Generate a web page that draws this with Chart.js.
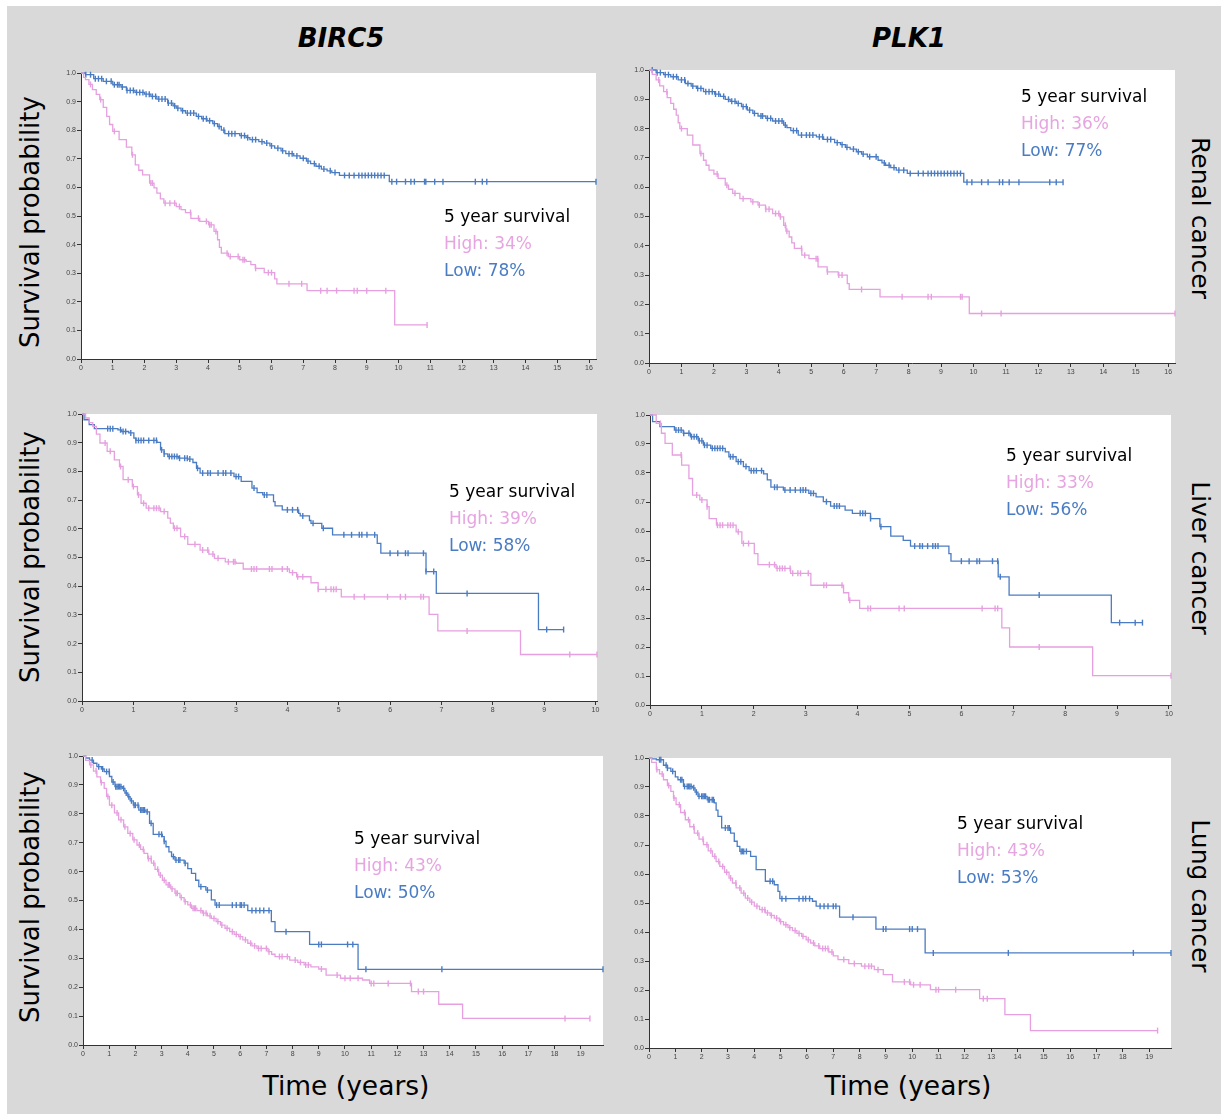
<!DOCTYPE html>
<html>
<head>
<meta charset="utf-8">
<script src="https://cdn.jsdelivr.net/npm/chart.js@4.4.1/dist/chart.umd.min.js"></script>
<style>
  html, body { margin: 0; padding: 0; background: #fff; }
  body { width: 1221px; height: 1118px; position: relative; overflow: hidden; font-family: "DejaVu Sans", Verdana, sans-serif; }
  #bg { position: absolute; left: 7px; top: 6px; width: 1214px; height: 1108px; background: #d9d9d9; }
  .panel { position: absolute; }
  .title { position: absolute; font-size: 26px; font-weight: bold; font-style: italic; color: #000; transform: translate(-50%, -50%); white-space: nowrap; }
  .ylab { position: absolute; font-size: 26px; color: #000; white-space: nowrap; transform: translate(-50%, -50%) rotate(-90deg); }
  .rlab { position: absolute; font-size: 25px; color: #000; white-space: nowrap; transform: translate(-50%, -50%) rotate(90deg); }
  .xlab { position: absolute; font-size: 26.5px; color: #000; white-space: nowrap; transform: translate(-50%, -50%); }
  .note { position: absolute; font-size: 17px; line-height: 27px; white-space: nowrap; }
  .note .k { color: #000; }
  .note .h { color: #e6a4e0; }
  .note .l { color: #4a7cc4; }
</style>
</head>
<body>
<div id="bg"></div>

<div class="title" style="left:341px; top:38px;">BIRC5</div>
<div class="title" style="left:909px; top:38px;">PLK1</div>

<div class="ylab" style="left:30px; top:222px;">Survival probability</div>
<div class="ylab" style="left:30px; top:557px;">Survival probability</div>
<div class="ylab" style="left:30px; top:897px;">Survival probability</div>

<div class="rlab" style="left:1200px; top:218px;">Renal cancer</div>
<div class="rlab" style="left:1200px; top:558px;">Liver cancer</div>
<div class="rlab" style="left:1200px; top:896px;">Lung cancer</div>

<div class="xlab" style="left:346px; top:1085px;">Time (years)</div>
<div class="xlab" style="left:908px; top:1085px;">Time (years)</div>

<script>
// tick labels
const yTicks = [0, 0.1, 0.2, 0.3, 0.4, 0.5, 0.6, 0.7, 0.8, 0.9, 1.0];
const yTickLabels = ['0.0', '0.1', '0.2', '0.3', '0.4', '0.5', '0.6', '0.7', '0.8', '0.9', '1.0'];
const renalTicks = [0, 1, 2, 3, 4, 5, 6, 7, 8, 9, 10, 11, 12, 13, 14, 15, 16];
const liverTicks = [0, 1, 2, 3, 4, 5, 6, 7, 8, 9, 10];
const lungTicks = [0, 1, 2, 3, 4, 5, 6, 7, 8, 9, 10, 11, 12, 13, 14, 15, 16, 17, 18, 19];

// 5 year survival (%)
const fiveYearHigh = [34, 36, 39, 33, 43, 43];
const fiveYearLow = [78, 77, 58, 56, 50, 53];

// KM steps: [time, survival from that time on]
const renalBircHigh = [[0,1],[0.08,0.985],[0.14,0.977],[0.25,0.96],[0.36,0.942],[0.48,0.925],[0.59,0.907],[0.7,0.88],[0.81,0.848],[0.9,0.82],[1.0,0.796],[1.2,0.767],[1.43,0.741],[1.6,0.714],[1.71,0.679],[1.82,0.66],[1.94,0.644],[2.16,0.615],[2.3,0.598],[2.39,0.58],[2.5,0.56],[2.61,0.545],[3.0,0.533],[3.15,0.522],[3.29,0.512],[3.46,0.492],[3.74,0.481],[4.02,0.469],[4.19,0.446],[4.3,0.417],[4.36,0.39],[4.42,0.37],[4.64,0.358],[5.0,0.347],[5.2,0.341],[5.35,0.33],[5.49,0.317],[5.77,0.302],[6.1,0.28],[6.17,0.263],[7.12,0.239],[9.88,0.119],[10.9,0.119]];
const renalBircLow = [[0,1],[0.14,0.994],[0.4,0.98],[0.7,0.971],[1.0,0.959],[1.26,0.951],[1.43,0.939],[1.7,0.932],[2.0,0.926],[2.2,0.918],[2.39,0.909],[2.73,0.895],[2.9,0.885],[3.0,0.877],[3.15,0.868],[3.29,0.86],[3.63,0.848],[3.8,0.84],[3.97,0.833],[4.15,0.823],[4.3,0.813],[4.42,0.8],[4.53,0.788],[5.0,0.781],[5.2,0.774],[5.32,0.767],[5.6,0.76],[5.77,0.755],[5.95,0.745],[6.1,0.737],[6.3,0.728],[6.45,0.718],[6.7,0.71],[6.9,0.702],[7.1,0.692],[7.23,0.683],[7.4,0.674],[7.57,0.664],[7.75,0.658],[7.9,0.652],[8.14,0.642],[9.71,0.62],[16.22,0.62]];
const renalBircHighCens = [0.3,0.62,1.05,1.62,2.2,2.25,2.65,2.8,2.95,3.1,3.45,3.7,3.95,4.05,4.1,4.25,4.6,4.7,4.95,5.1,5.15,5.5,5.9,6.0,6.55,6.95,7.55,7.75,8.05,8.6,8.7,9.0,9.6,10.9];
const renalBircLowCens = [0.15,0.3,0.45,0.55,0.65,0.8,0.95,1.05,1.15,1.2,1.3,1.45,1.55,1.65,1.75,1.85,1.95,2.05,2.15,2.25,2.35,2.45,2.55,2.65,2.75,2.85,2.95,3.05,3.2,3.35,3.45,3.55,3.7,3.85,3.95,4.05,4.2,4.35,4.5,4.65,4.75,4.85,5.05,5.15,5.25,5.4,5.5,5.7,5.85,6.0,6.2,6.35,6.55,6.65,6.8,7.0,7.15,7.35,7.5,7.65,7.85,8.0,8.3,8.45,8.6,8.75,8.85,8.95,9.05,9.15,9.25,9.35,9.45,9.55,9.79,9.94,10.22,10.39,10.5,10.82,10.86,11.14,11.4,12.42,12.64,12.78,16.22];

const renalPlkHigh = [[0,1],[0.1,0.985],[0.22,0.966],[0.33,0.946],[0.45,0.926],[0.56,0.906],[0.67,0.886],[0.76,0.866],[0.84,0.846],[0.9,0.82],[0.95,0.8],[1.18,0.778],[1.35,0.744],[1.57,0.715],[1.68,0.692],[1.76,0.675],[1.85,0.658],[2.0,0.645],[2.13,0.63],[2.35,0.607],[2.45,0.593],[2.58,0.579],[2.8,0.561],[3.14,0.55],[3.36,0.539],[3.59,0.525],[3.81,0.51],[4.04,0.499],[4.15,0.47],[4.22,0.45],[4.32,0.43],[4.4,0.41],[4.48,0.391],[4.71,0.368],[4.93,0.356],[5.21,0.328],[5.49,0.311],[5.83,0.3],[6.11,0.271],[6.17,0.251],[7.12,0.226],[9.87,0.169],[16.21,0.169]];
const renalPlkLow = [[0,1],[0.22,0.991],[0.45,0.984],[0.67,0.977],[0.9,0.966],[1.12,0.954],[1.3,0.945],[1.46,0.937],[1.68,0.926],[2.02,0.918],[2.2,0.91],[2.35,0.9],[2.5,0.893],[2.69,0.886],[2.85,0.875],[3.03,0.863],[3.2,0.852],[3.36,0.843],[3.6,0.835],[3.81,0.826],[4.15,0.812],[4.25,0.803],[4.37,0.793],[4.6,0.778],[5.16,0.772],[5.38,0.763],[5.72,0.752],[5.9,0.745],[6.05,0.736],[6.2,0.73],[6.39,0.721],[6.55,0.713],[6.73,0.704],[7.06,0.692],[7.18,0.683],[7.29,0.675],[7.45,0.667],[7.62,0.658],[7.96,0.647],[9.7,0.617],[12.76,0.617]];
const renalPlkHighCens = [0.3,0.55,1.0,1.6,2.1,2.4,2.65,2.9,3.2,3.4,3.6,3.7,3.9,4.0,4.05,4.2,4.25,4.7,4.8,5.15,5.2,5.5,5.85,5.95,6.55,7.8,8.6,8.7,9.6,9.65,10.25,10.85,16.21];
const renalPlkLowCens = [0.1,0.25,0.35,0.5,0.6,0.75,0.85,1.0,1.1,1.2,1.35,1.5,1.6,1.75,1.85,1.95,2.05,2.15,2.3,2.45,2.55,2.65,2.75,2.9,3.0,3.1,3.25,3.45,3.5,3.65,3.75,3.9,4.0,4.1,4.2,4.45,4.55,4.7,4.85,4.95,5.05,5.25,5.35,5.5,5.6,5.8,5.95,6.1,6.3,6.45,6.6,6.8,7.0,7.25,7.4,7.55,7.7,7.85,8.05,8.3,8.45,8.6,8.7,8.8,8.9,9.0,9.1,9.2,9.3,9.4,9.5,9.6,9.8,9.95,10.25,10.45,10.8,10.9,11.1,11.4,12.35,12.55,12.76];

const liverBircHigh = [[0,1],[0.07,0.986],[0.14,0.97],[0.21,0.957],[0.28,0.93],[0.35,0.899],[0.49,0.87],[0.63,0.84],[0.73,0.817],[0.8,0.771],[0.98,0.747],[1.08,0.718],[1.15,0.689],[1.25,0.672],[1.53,0.66],[1.67,0.637],[1.72,0.62],[1.78,0.602],[1.92,0.573],[2.06,0.546],[2.3,0.526],[2.47,0.512],[2.58,0.497],[2.79,0.485],[3.0,0.48],[3.14,0.46],[4.04,0.447],[4.18,0.433],[4.46,0.412],[4.6,0.389],[5.05,0.363],[6.76,0.302],[6.93,0.244],[8.54,0.162],[10.03,0.162]];
const liverBircLow = [[0,1],[0.04,0.98],[0.14,0.963],[0.24,0.949],[0.7,0.945],[0.77,0.939],[0.91,0.934],[1.01,0.916],[1.05,0.908],[1.46,0.901],[1.53,0.875],[1.6,0.861],[1.67,0.852],[1.88,0.846],[2.06,0.843],[2.16,0.831],[2.23,0.811],[2.3,0.794],[2.96,0.782],[3.1,0.765],[3.31,0.742],[3.41,0.726],[3.52,0.718],[3.73,0.695],[3.76,0.68],[3.9,0.666],[4.22,0.654],[4.25,0.645],[4.43,0.629],[4.46,0.619],[4.67,0.602],[4.88,0.579],[5.75,0.549],[5.82,0.515],[6.7,0.451],[6.9,0.375],[8.89,0.249],[9.38,0.249]];
const liverBircHighCens = [0.45,0.55,0.75,0.9,1.0,1.1,1.2,1.3,1.4,1.45,1.5,1.6,1.8,1.85,2.0,2.2,2.35,2.45,2.55,2.65,2.85,2.95,2.98,3.3,3.35,3.4,3.65,3.7,3.9,4.0,4.1,4.2,4.3,4.6,4.75,4.85,4.9,4.95,5.3,5.5,5.95,6.2,6.3,6.6,6.65,7.5,9.5,10.03];
const liverBircLowCens = [0.5,0.55,0.6,0.75,0.8,0.85,0.95,1.05,1.1,1.15,1.2,1.3,1.4,1.45,1.55,1.6,1.7,1.75,1.8,1.85,1.9,2.0,2.05,2.1,2.25,2.35,2.45,2.5,2.65,2.75,2.8,2.9,3.0,3.05,3.35,3.55,3.6,4.0,4.1,4.2,4.3,4.5,4.7,5.1,5.25,5.4,5.45,5.55,5.7,6.0,6.15,6.3,6.35,6.65,6.7,6.85,7.5,9.05,9.38];

const liverPlkHigh = [[0,1],[0.12,0.971],[0.22,0.937],[0.29,0.902],[0.43,0.862],[0.61,0.827],[0.75,0.781],[0.82,0.724],[0.96,0.707],[1.1,0.684],[1.14,0.643],[1.28,0.62],[1.66,0.597],[1.77,0.557],[2.01,0.522],[2.08,0.484],[2.43,0.471],[2.71,0.454],[3.1,0.413],[3.73,0.387],[3.83,0.361],[4.04,0.333],[6.78,0.266],[6.93,0.2],[8.53,0.101],[10.04,0.101]];
const liverPlkLow = [[0,1],[0.05,0.977],[0.19,0.96],[0.47,0.948],[0.64,0.937],[0.78,0.925],[0.93,0.911],[1.03,0.896],[1.17,0.885],[1.45,0.873],[1.52,0.856],[1.66,0.839],[1.8,0.822],[1.91,0.808],[2.19,0.797],[2.26,0.776],[2.33,0.751],[2.57,0.741],[3.06,0.73],[3.2,0.718],[3.34,0.701],[3.48,0.686],[3.76,0.672],[3.9,0.661],[4.25,0.643],[4.43,0.615],[4.64,0.582],[4.88,0.568],[5.02,0.548],[5.76,0.522],[5.8,0.496],[6.71,0.442],[6.92,0.379],[8.89,0.284],[9.49,0.284]];
const liverPlkHighCens = [0.2,0.6,0.9,1.0,1.1,1.3,1.35,1.4,1.5,1.55,1.6,1.7,1.8,1.9,2.3,2.4,2.45,2.5,2.55,2.6,2.7,2.75,2.85,2.9,3.05,3.35,3.4,3.7,3.85,4.2,4.25,4.8,4.9,6.4,6.65,6.7,7.5,10.04];
const liverPlkLowCens = [0.5,0.55,0.6,0.65,0.75,0.8,0.85,0.9,0.95,1.0,1.05,1.1,1.2,1.25,1.3,1.35,1.4,1.55,1.6,1.7,1.75,1.85,1.95,2.0,2.05,2.15,2.4,2.45,2.6,2.7,2.8,2.9,2.95,3.0,3.1,3.15,3.4,3.55,3.6,3.65,4.05,4.1,4.15,4.25,4.45,5.1,5.2,5.25,5.35,5.45,5.5,5.55,6.0,6.15,6.3,6.35,6.6,6.7,6.75,7.5,9.05,9.35,9.49];

const lungBircHigh = [[0,1],[0.1,0.985],[0.25,0.969],[0.4,0.948],[0.53,0.928],[0.67,0.908],[0.81,0.888],[0.9,0.86],[1.01,0.83],[1.2,0.803],[1.36,0.779],[1.55,0.755],[1.71,0.732],[1.9,0.71],[2.06,0.692],[2.2,0.677],[2.33,0.663],[2.47,0.645],[2.61,0.629],[2.75,0.608],[2.89,0.588],[3.03,0.57],[3.17,0.554],[3.35,0.54],[3.51,0.525],[3.7,0.51],[3.86,0.496],[4.0,0.485],[4.14,0.473],[4.35,0.465],[4.56,0.456],[4.75,0.447],[4.9,0.438],[5.08,0.427],[5.25,0.415],[5.42,0.404],[5.6,0.392],[5.77,0.383],[5.94,0.375],[6.1,0.364],[6.29,0.352],[6.45,0.343],[6.64,0.334],[7.06,0.323],[7.2,0.314],[7.33,0.306],[7.89,0.294],[8.2,0.286],[8.44,0.277],[8.7,0.27],[9.0,0.263],[9.28,0.242],[9.83,0.231],[10.67,0.225],[10.94,0.213],[12.54,0.185],[13.58,0.141],[14.49,0.092],[19.35,0.092]];
const lungBircLow = [[0,1],[0.1,0.993],[0.25,0.986],[0.4,0.975],[0.53,0.963],[0.7,0.955],[0.81,0.946],[1.01,0.929],[1.1,0.91],[1.22,0.894],[1.5,0.888],[1.6,0.872],[1.71,0.859],[1.8,0.845],[1.92,0.83],[2.13,0.813],[2.4,0.807],[2.54,0.767],[2.68,0.729],[3.03,0.721],[3.1,0.705],[3.17,0.686],[3.28,0.668],[3.38,0.652],[3.51,0.64],[3.86,0.629],[4.0,0.61],[4.14,0.594],[4.3,0.57],[4.42,0.548],[4.69,0.536],[4.9,0.502],[5.04,0.484],[6.29,0.465],[7.19,0.427],[7.33,0.392],[8.65,0.348],[10.5,0.262],[19.85,0.262]];
const lungBircHighCens = [0.3,0.5,0.7,0.95,1.1,1.3,1.45,1.6,1.8,1.95,2.15,2.3,2.5,2.6,2.7,2.85,2.95,3.1,3.25,3.3,3.4,3.55,3.6,3.75,3.9,4.1,4.2,4.25,4.3,4.5,4.6,4.7,4.85,5.0,5.15,5.3,5.5,5.7,5.85,6.0,6.2,6.4,6.55,6.7,6.8,7.0,7.1,7.5,7.6,7.8,8.1,8.3,8.5,8.6,9.1,9.7,10.0,10.2,10.5,11.0,11.1,11.65,12.5,12.8,13.0,18.4,19.35];
const lungBircLowCens = [0.35,0.6,0.75,0.9,1.0,1.15,1.25,1.3,1.35,1.4,1.45,1.55,1.65,1.75,1.85,1.95,2.0,2.1,2.2,2.25,2.3,2.35,2.45,2.6,2.9,3.0,3.1,3.45,3.55,3.65,3.7,3.9,4.5,4.75,5.1,5.2,5.7,5.85,6.0,6.05,6.15,6.45,6.6,6.75,6.9,7.1,7.75,9.0,9.1,10.1,10.3,10.8,13.7,19.85];

const lungPlkHigh = [[0,1],[0.1,0.985],[0.28,0.96],[0.4,0.945],[0.55,0.925],[0.7,0.905],[0.83,0.885],[0.93,0.862],[1.03,0.839],[1.2,0.812],[1.38,0.787],[1.55,0.763],[1.72,0.741],[1.9,0.72],[2.07,0.701],[2.25,0.68],[2.41,0.661],[2.55,0.643],[2.69,0.626],[2.87,0.606],[3.04,0.586],[3.17,0.569],[3.31,0.552],[3.5,0.534],[3.66,0.517],[3.83,0.503],[4.0,0.489],[4.2,0.477],[4.42,0.466],[4.6,0.457],[4.76,0.448],[4.95,0.436],[5.11,0.425],[5.28,0.415],[5.45,0.405],[5.62,0.395],[5.8,0.385],[5.97,0.373],[6.14,0.362],[6.3,0.352],[6.49,0.343],[6.83,0.331],[7.0,0.318],[7.18,0.305],[7.59,0.291],[8.07,0.282],[8.56,0.27],[8.9,0.253],[9.25,0.228],[9.94,0.218],[10.69,0.201],[12.56,0.17],[13.52,0.115],[14.49,0.06],[19.32,0.06]];
const lungPlkLow = [[0,1],[0.1,0.997],[0.28,0.994],[0.55,0.975],[0.7,0.965],[0.83,0.954],[1.0,0.935],[1.1,0.925],[1.31,0.902],[1.66,0.897],[1.75,0.882],[1.86,0.868],[2.21,0.856],[2.48,0.845],[2.55,0.82],[2.62,0.799],[2.76,0.759],[3.1,0.741],[3.24,0.713],[3.35,0.695],[3.45,0.678],[3.86,0.661],[4.07,0.615],[4.42,0.575],[4.76,0.563],[4.9,0.54],[4.97,0.515],[6.21,0.506],[6.35,0.489],[7.24,0.451],[8.62,0.41],[10.49,0.328],[19.83,0.328]];
const lungPlkHighCens = [0.3,0.5,0.75,0.95,1.15,1.35,1.5,1.7,1.85,2.05,2.2,2.35,2.5,2.65,2.8,2.95,3.1,3.3,3.45,3.6,3.75,3.9,4.1,4.3,4.4,4.5,4.65,4.85,5.0,5.2,5.35,5.55,5.7,5.85,6.05,6.25,6.45,6.6,6.7,6.8,6.95,7.4,7.8,8.2,8.35,8.45,8.7,9.7,9.9,10.05,10.3,10.9,11.0,11.65,12.7,12.85,19.32];
const lungPlkLowCens = [0.4,0.45,0.65,0.7,0.9,1.2,1.25,1.35,1.45,1.5,1.55,1.6,1.7,1.8,1.9,2.0,2.05,2.1,2.15,2.25,2.3,2.4,2.45,2.9,3.0,3.05,3.5,3.55,3.6,3.7,4.6,4.7,5.05,5.2,5.7,5.85,5.95,6.1,6.5,6.65,6.8,7.0,7.1,7.75,8.9,9.0,9.9,10.0,10.2,10.8,13.65,18.4,19.83];

const pink = '#e6a0e0';
const blue = '#4a7cc4';

// plot area on the page: L/R = x pixels of axis and right edge, T/B = y of 1.0 and 0.0
const panels = [
    { L: 81,  T: 73,  R: 596,  B: 359,  xMax: 16.22, ticks: renalTicks, high: renalBircHigh, low: renalBircLow, hc: renalBircHighCens, lc: renalBircLowCens, note: [444, 216] },
    { L: 649, T: 70,  R: 1175, B: 363,  xMax: 16.21, ticks: renalTicks, high: renalPlkHigh,  low: renalPlkLow,  hc: renalPlkHighCens,  lc: renalPlkLowCens,  note: [1021, 96] },
    { L: 82,  T: 414, R: 597,  B: 701,  xMax: 10.03, ticks: liverTicks, high: liverBircHigh, low: liverBircLow, hc: liverBircHighCens, lc: liverBircLowCens, note: [449, 491] },
    { L: 650, T: 415, R: 1171, B: 705,  xMax: 10.04, ticks: liverTicks, high: liverPlkHigh,  low: liverPlkLow,  hc: liverPlkHighCens,  lc: liverPlkLowCens,  note: [1006, 455] },
    { L: 83,  T: 756, R: 603,  B: 1045, xMax: 19.85, ticks: lungTicks,  high: lungBircHigh,  low: lungBircLow,  hc: lungBircHighCens,  lc: lungBircLowCens,  note: [354, 838] },
    { L: 649, T: 758, R: 1171, B: 1048, xMax: 19.83, ticks: lungTicks,  high: lungPlkHigh,   low: lungPlkLow,   hc: lungPlkHighCens,   lc: lungPlkLowCens,   note: [957, 823] }
];

const survAt = (steps, t) => {
    let s = steps[0][1];
    for (const [x, y] of steps) {
        if (x <= t) s = y; else break;
    }
    return s;
};

const whiteArea = {
    id: 'whiteArea',
    beforeDraw(chart) {
        const a = chart.chartArea;
        chart.ctx.save();
        chart.ctx.fillStyle = '#ffffff';
        chart.ctx.fillRect(a.left, a.top, a.right - a.left, a.bottom - a.top);
        chart.ctx.restore();
    }
};

const tickFont = { family: 'Liberation Sans', size: 7 };

panels.forEach((p, i) => {
    const wrap = document.createElement('div');
    wrap.className = 'panel';
    const w = p.R - p.L + 38, h = p.B - p.T + 26;
    wrap.style.left = (p.L - 30) + 'px';
    wrap.style.top = (p.T - 6) + 'px';
    wrap.style.width = w + 'px';
    wrap.style.height = h + 'px';
    const canvas = document.createElement('canvas');
    canvas.width = w;
    canvas.height = h;
    canvas.style.width = w + 'px';
    canvas.style.height = h + 'px';
    wrap.appendChild(canvas);
    document.body.appendChild(wrap);

    // horizontal at the old value, then drop at the next event time
    const line = (steps, color) => ({
        data: steps.map(([x, y]) => ({ x, y })),
        showLine: true,
        stepped: 'before',
        borderColor: color,
        borderWidth: 1.3,
        pointRadius: 0,
        fill: false,
        clip: false
    });
    const cens = (times, steps, color) => ({
        data: times.map(t => ({ x: t, y: survAt(steps, t) })),
        showLine: false,
        pointStyle: 'line',
        rotation: 90,
        pointRadius: 3,
        borderColor: color,
        borderWidth: 1.4,
        clip: false
    });

    new Chart(canvas.getContext('2d'), {
        type: 'scatter',
        data: {
            datasets: [
                line(p.high, pink),
                cens(p.hc, p.high, pink),
                line(p.low, blue),
                cens(p.lc, p.low, blue)
            ]
        },
        options: {
            responsive: false,
            animation: false,
            layout: { padding: { left: 0, top: 6, right: 8, bottom: 0 } },
            plugins: { legend: { display: false }, tooltip: { enabled: false } },
            scales: {
                x: {
                    type: 'linear',
                    min: 0,
                    max: p.xMax,
                    afterBuildTicks: s => { s.ticks = p.ticks.map(v => ({ value: v })); },
                    afterFit: s => { s.height = 20; s.paddingLeft = 0; s.paddingRight = 0; },
                    grid: { drawOnChartArea: false, drawTicks: true, tickLength: 4, color: '#333' },
                    border: { display: true, color: '#333', width: 1 },
                    ticks: { font: tickFont, color: '#444', padding: 1, maxRotation: 0, autoSkip: false, callback: v => String(v) }
                },
                y: {
                    type: 'linear',
                    min: 0,
                    max: 1,
                    afterBuildTicks: s => { s.ticks = yTicks.map(v => ({ value: v })); },
                    afterFit: s => { s.width = 30; s.paddingTop = 0; s.paddingBottom = 0; },
                    grid: { drawOnChartArea: false, drawTicks: true, tickLength: 4, color: '#333' },
                    border: { display: true, color: '#333', width: 1 },
                    ticks: { font: tickFont, color: '#444', padding: 1, autoSkip: false, callback: (v, idx) => yTickLabels[idx] }
                }
            }
        },
        plugins: [whiteArea]
    });

    const note = document.createElement('div');
    note.className = 'note';
    note.style.left = p.note[0] + 'px';
    note.style.top = (p.note[1] - 13.5) + 'px';
    note.innerHTML = '<div class="k">5 year survival</div>' +
        '<div class="h">High: ' + fiveYearHigh[i] + '%</div>' +
        '<div class="l">Low: ' + fiveYearLow[i] + '%</div>';
    document.body.appendChild(note);
});
</script>
</body>
</html>
